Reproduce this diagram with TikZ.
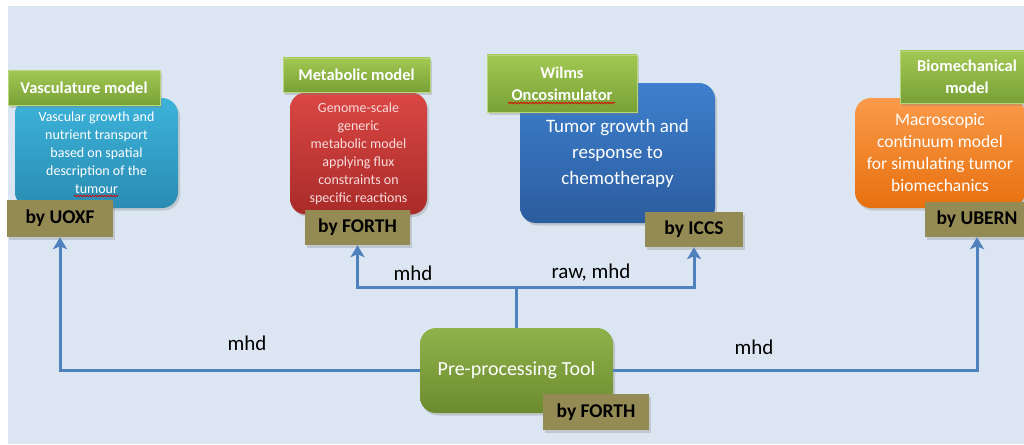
\documentclass[tikz,border=0pt]{standalone}
\usepackage{fontspec}
\setmainfont{Carlito}
\usetikzlibrary{arrows.meta,shadows,decorations.pathmorphing}

\definecolor{bgblue}{HTML}{DCE6F2}
\definecolor{connblue}{HTML}{4F81BD}
\definecolor{olivebox}{HTML}{948A54}
\definecolor{tagtop}{HTML}{A2C853}
\definecolor{tagbot}{HTML}{78A136}
\definecolor{tagedge}{HTML}{B7D77A}
\definecolor{cyantop}{HTML}{3DB3DA}
\definecolor{cyanbot}{HTML}{2A8CB2}
\definecolor{redtop}{HTML}{DA4744}
\definecolor{redbot}{HTML}{A92B29}
\definecolor{bluetop}{HTML}{3E80CE}
\definecolor{bluebot}{HTML}{2B5C9E}
\definecolor{orangetop}{HTML}{FA9A4A}
\definecolor{orangebot}{HTML}{E8700E}
\definecolor{pretop}{HTML}{90B24B}
\definecolor{prebot}{HTML}{6C8B2F}
\definecolor{pinktext}{HTML}{F8DCDC}

\begin{document}
\begin{tikzpicture}[x=1pt,y=-1pt,
  sh/.style={drop shadow={shadow xshift=2pt,shadow yshift=-2.5pt,opacity=0.3}},
  model/.style={rounded corners=16pt, text=white, align=center, inner sep=0pt, sh},
  tag/.style={draw=tagedge, line width=0.6pt, top color=tagtop, bottom color=tagbot,
    text=white, align=center, inner sep=0pt, sh,
    font=\bfseries\fontsize{16.5}{22}\selectfont},
  bybox/.style={fill=olivebox, text=black, inner sep=0pt, sh,
    font=\bfseries\fontsize{19.5}{22}\selectfont},
  conn/.style={draw=connblue, line width=3pt, -{Stealth[length=12pt,width=14pt,inset=3pt]}},
  plainline/.style={draw=connblue, line width=3pt},
  lbl/.style={font=\fontsize{21}{24}\selectfont, text=black, inner sep=0pt},
  spell/.style={draw=red!85!black, line width=0.7pt,
    decorate, decoration={snake, amplitude=0.9pt, segment length=3pt}}
]
\useasboundingbox (0,0) rectangle (1024,444);
\fill[white] (0,0) rectangle (1024,444);
\fill[bgblue] (8,6) rectangle (1024,444);

% Vasculature model
\node[model, top color=cyantop, bottom color=cyanbot, minimum width=163pt, minimum height=110pt,
  font=\fontsize{14}{18}\selectfont] (vasc) at (96.5,153)
  {Vascular growth and\\nutrient transport\\based on spatial\\description of the\\tumour};
\draw[spell] (74,196) -- (118,196);
\node[tag, minimum width=152pt, minimum height=35pt] (vasctag) at (84,87.5) {Vasculature model};
\node[bybox, minimum width=106pt, minimum height=37pt] (uoxf) at (60,218.5) {by UOXF};

% Metabolic model
\node[model, top color=redtop, bottom color=redbot, minimum width=137pt, minimum height=122pt,
  text=pinktext, font=\fontsize{14}{18}\selectfont] (meta) at (358.5,153.5)
  {Genome-scale\\generic\\metabolic model\\applying flux\\constraints on\\specific reactions};
\node[tag, minimum width=147pt, minimum height=34pt] (metatag) at (356.5,75) {Metabolic model};
\node[bybox, minimum width=105pt, minimum height=35pt] (forthA) at (357.5,227.5) {by FORTH};

% Wilms Oncosimulator
\node[model, top color=bluetop, bottom color=bluebot, minimum width=195pt, minimum height=140pt,
  font=\fontsize{19}{26}\selectfont] (onco) at (617.5,153)
  {Tumor growth and\\response to\\chemotherapy};
\node[tag, minimum width=150pt, minimum height=57pt] (oncotag) at (562,83.5) {Wilms\\Oncosimulator};
\draw[spell] (508,103) -- (615,103);
\node[bybox, minimum width=98pt, minimum height=35pt] (iccs) at (694,229.5) {by ICCS};

% Biomechanical model
\node[model, top color=orangetop, bottom color=orangebot, minimum width=170pt, minimum height=110pt,
  font=\fontsize{17.5}{22}\selectfont] (bio) at (940,153)
  {Macroscopic\\continuum model\\for simulating tumor\\biomechanics};
\node[tag, minimum width=134pt, minimum height=52pt] (biotag) at (967,77) {Biomechanical\\model};
\node[bybox, minimum width=104pt, minimum height=35pt] (ubern) at (977,219.5) {by UBERN};

% Pre-processing tool
\node[model, top color=pretop, bottom color=prebot, minimum width=193pt, minimum height=85pt,
  text=white, font=\fontsize{20}{24}\selectfont] (pre) at (516.5,370.5) {Pre-processing Tool};
\node[bybox, minimum width=106pt, minimum height=36pt] (forthB) at (596,412) {by FORTH};

% Data flow
\draw[plainline] (pre.north) -- ++(0,-40) coordinate (split);
\draw[conn] (split) -| (forthA.south);
\draw[conn] (split) -| (iccs.south);
\draw[conn] (pre.west) -| (uoxf.south);
\draw[conn] (pre.east) -| (ubern.south);

% Format labels
\node[lbl] (m1) at (247,343) {mhd};
\node[lbl] (m2) at (754,347) {mhd};
\node[lbl] (m3) at (413,273) {mhd};
\node[lbl] (m4) at (591,273) {raw, mhd};
\end{tikzpicture}
\end{document}
